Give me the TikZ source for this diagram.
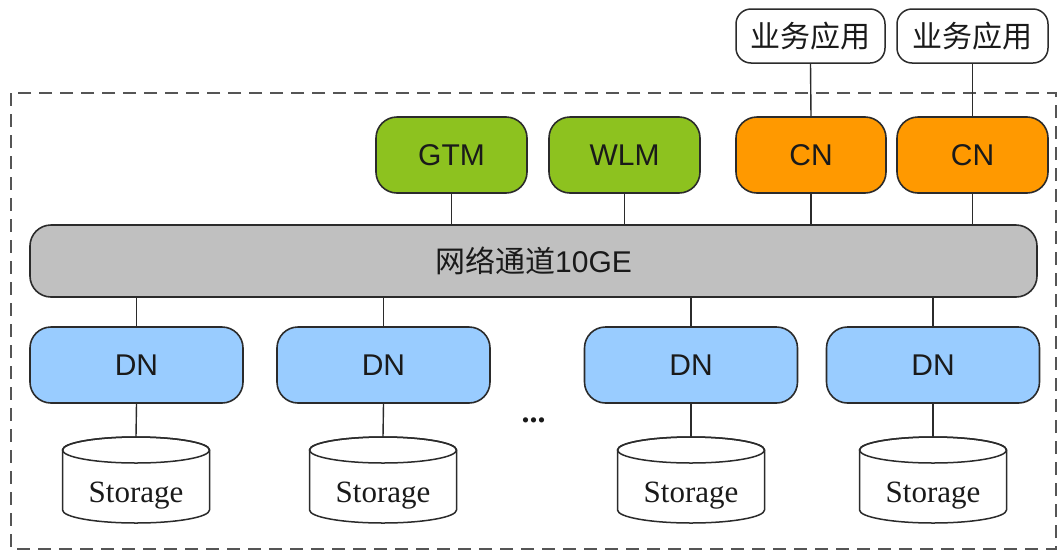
\documentclass[tikz,border=0pt]{standalone}
\usepackage{fontspec}
\setmainfont{Liberation Serif}
\setsansfont{Liberation Sans}
\newfontfamily\cjk{Noto Sans CJK SC}
\definecolor{gtmgreen}{HTML}{8DC21F}
\definecolor{cnorange}{HTML}{FF9900}
\definecolor{dnblue}{HTML}{99CCFF}
\definecolor{busgray}{HTML}{C0C0C0}
\definecolor{edge}{HTML}{2B2B2B}
\definecolor{txt}{HTML}{1A1A1A}
\tikzset{
  box/.style={draw=edge, line width=1.6pt, rounded corners=21pt, minimum height=76pt,
    text=txt, font=\sffamily\fontsize{30}{36}\selectfont, inner sep=0pt},
  appbox/.style={draw=edge, line width=1.5pt, rounded corners=15pt, fill=white,
    minimum height=54pt, text=txt, font=\cjk\fontsize{30}{36}\selectfont, inner sep=0pt},
  link/.style={draw=edge, line width=1.4pt},
  cylline/.style={draw=edge, line width=1.5pt, fill=white},
  storetext/.style={text=txt, font=\rmfamily\fontsize{31}{36}\selectfont, inner sep=0pt},
}
\newcommand{\storagecyl}[2]{%
  \draw[cylline] (#2-73.5,450) -- (#2-73.5,510)
    arc[start angle=180, end angle=0, x radius=73.5, y radius=13]
    -- (#2+73.5,450)
    arc[start angle=0, end angle=-180, x radius=73.5, y radius=13] -- cycle;
  \draw[cylline, fill=none] (#2,450) ellipse[x radius=73.5, y radius=13];
  \coordinate (#1top) at (#2,437);
  \node[storetext] (#1) at (#2,496) {Storage};
}
\begin{document}
\begin{tikzpicture}[x=1pt,y=-1pt]
\useasboundingbox (0,0) rectangle (1061,555);
\fill[white] (0,0) rectangle (1061,555);
% dashed frame
\draw[draw=edge!80, line width=1.8pt, dash pattern=on 13pt off 8pt] (11,93) rectangle (1056,549);

% top application boxes
\node[appbox, minimum width=149pt] (app1) at (810.5,36) {业务应用};
\node[appbox, minimum width=151pt] (app2) at (972.5,36) {业务应用};

% upper row
\node[box, fill=gtmgreen, minimum width=151pt] (gtm) at (451.5,155) {GTM};
\node[box, fill=gtmgreen, minimum width=151pt] (wlm) at (624.5,155) {WLM};
\node[box, fill=cnorange, minimum width=150pt] (cn1) at (811,155) {CN};
\node[box, fill=cnorange, minimum width=151pt] (cn2) at (972.5,155) {CN};

% bus
\node[box, fill=busgray, minimum width=1007pt, minimum height=72pt] (bus) at (533.5,261)
  {{\cjk 网络通道}10GE};

% DN row
\node[box, fill=dnblue, minimum width=213pt] (dn1) at (136.5,365) {DN};
\node[box, fill=dnblue, minimum width=213pt] (dn2) at (383.5,365) {DN};
\node[box, fill=dnblue, minimum width=213pt] (dn3) at (691,365) {DN};
\node[box, fill=dnblue, minimum width=213pt] (dn4) at (933,365) {DN};

% storage
\storagecyl{st1}{136}
\storagecyl{st2}{383}
\storagecyl{st3}{691}
\storagecyl{st4}{933}

\node[text=txt, font=\bfseries\fontsize{32}{36}\selectfont, inner sep=0pt] (dots) at (533.5,420) {...};

% connectors
\draw[link] (app1.south) -- (cn1.north);
\draw[link] (app2.south) -- (cn2.north);
\draw[link] (gtm.south) -- (gtm.south |- bus.north);
\draw[link] (wlm.south) -- (wlm.south |- bus.north);
\draw[link] (cn1.south) -- (cn1.south |- bus.north);
\draw[link] (cn2.south) -- (cn2.south |- bus.north);
\foreach \d in {dn1,dn2,dn3,dn4}{
  \draw[link] (\d.north |- bus.south) -- (\d.north);
}
\draw[link] (dn1.south) -- (st1top);
\draw[link] (dn2.south) -- (st2top);
\draw[link] (dn3.south) -- (st3top);
\draw[link] (dn4.south) -- (st4top);
\end{tikzpicture}
\end{document}
